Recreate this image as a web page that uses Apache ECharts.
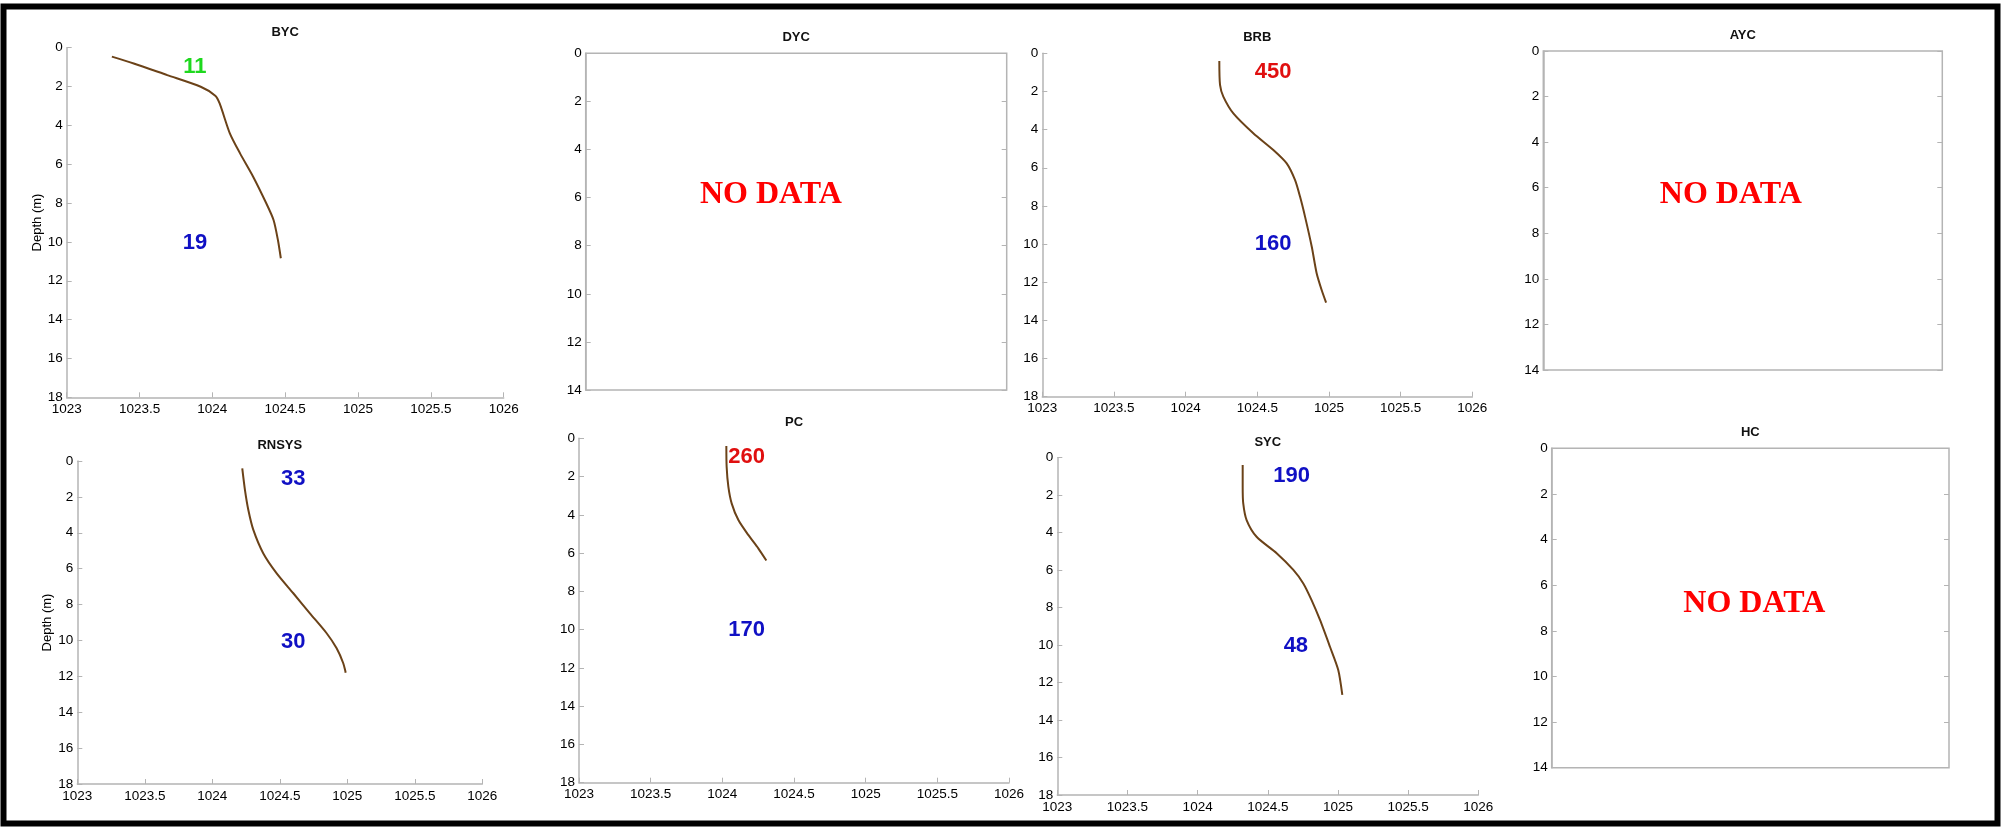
<!DOCTYPE html>
<html>
<head>
<meta charset="utf-8">
<script src="https://cdn.jsdelivr.net/npm/echarts@6/dist/echarts.min.js"></script>
<style>
  html, body { margin: 0; padding: 0; background: #fff; }
  #chart { width: 2007px; height: 827px; }
</style>
</head>
<body>
<div id="chart"></div>
<script>
// station names, in panel order (top row then bottom row)
const stations = ['BYC', 'DYC', 'BRB', 'AYC', 'RNSYS', 'PC', 'SYC', 'HC']

// density profiles (kg/m3) against depth (m)
const bycDensity = [1023.31, 1023.46, 1023.69, 1023.92, 1024.02, 1024.05, 1024.12, 1024.19, 1024.28, 1024.37, 1024.42, 1024.45, 1024.47]
const bycDepth = [0.46, 0.81, 1.41, 2.01, 2.47, 2.87, 4.41, 5.44, 6.64, 8.01, 8.87, 9.9, 10.84]

const brbDensity = [1024.235, 1024.24, 1024.263, 1024.333, 1024.472, 1024.612, 1024.705, 1024.763, 1024.798, 1024.833, 1024.88, 1024.914, 1024.949, 1024.98]
const brbDepth = [0.40, 1.66, 2.27, 3.15, 4.19, 5.07, 5.77, 6.64, 7.51, 8.56, 10.14, 11.53, 12.41, 13.07]

const rnsysDensity = [1024.222, 1024.242, 1024.267, 1024.304, 1024.378, 1024.477, 1024.6, 1024.723, 1024.847, 1024.921, 1024.97, 1024.988]
const rnsysDepth = [0.41, 1.62, 2.73, 3.84, 5.15, 6.26, 7.37, 8.49, 9.6, 10.44, 11.27, 11.8]

const pcDensity = [1024.028, 1024.03, 1024.042, 1024.065, 1024.112, 1024.181, 1024.251, 1024.307]
const pcDepth = [0.40, 1.48, 2.53, 3.40, 4.27, 5.05, 5.75, 6.39]

const sycDensity = [1024.321, 1024.321, 1024.325, 1024.349, 1024.42, 1024.563, 1024.682, 1024.753, 1024.812, 1024.872, 1024.943, 1025.002, 1025.031]
const sycDepth = [0.39, 1.55, 2.44, 3.33, 4.22, 5.1, 5.99, 6.71, 7.6, 8.66, 10.09, 11.33, 12.66]

// which panel each profile goes in; the rest say NO DATA
const profilePanel = [0, 2, 4, 5, 6]
const profileDensity = [bycDensity, brbDensity, rnsysDensity, pcDensity, sycDensity]
const profileDepth = [bycDepth, brbDepth, rnsysDepth, pcDepth, sycDepth]
const noDataPanel = [1, 3, 7]

// numbers written inside the panels
const notePanel = [0, 0, 2, 2, 4, 4, 5, 5, 6, 6]
const noteText = ['11', '19', '450', '160', '33', '30', '260', '170', '190', '48']
const noteDensity = [1023.88, 1023.88, 1024.61, 1024.61, 1024.6, 1024.6, 1024.17, 1024.17, 1024.67, 1024.70]
const noteDepth = [1.0, 10.06, 1.0, 10.0, 1.0, 10.06, 0.99, 10.02, 0.98, 10.03]
const noteKind = ['g', 'b', 'r', 'b', 'b', 'b', 'r', 'b', 'b', 'b']

// x position (0..1 across the box) and depth of the NO DATA text
const noDataX = [0.44, 0.47, 0.51]
const noDataDepth = [5.9, 6.3, 6.8]

// axis ticks
const densityMin = 1023, densityMax = 1026, densityStep = 0.5
const depthMaxProfile = 18, depthMaxEmpty = 14, depthStep = 2

const boxes = [
  [66.7, 47.7, 437, 349.6],
  [585.7, 53.3, 421, 336.7],
  [1042.3, 53.3, 430, 343.4],
  [1543.3, 51, 399, 319],
  [77.3, 461, 405, 323],
  [579, 438.3, 430, 344.4],
  [1057.3, 457.7, 421, 337.3],
  [1551.7, 448.3, 397.3, 319.4]
]

const kindColor = { g: '#1ed81e', b: '#1010c4', r: '#e00f0f' }
const axisGray = '#b4b4b4'
const sans = 'Arial, "Liberation Sans", sans-serif'

const chart = echarts.init(document.getElementById('chart'))

const grid = [], xAxis = [], yAxis = [], title = [], series = []

boxes.forEach((b, i) => {
  const empty = noDataPanel.indexOf(i) >= 0
  grid.push({
    left: b[0], top: b[1], width: b[2], height: b[3],
    show: empty, borderColor: axisGray, borderWidth: 1.5, backgroundColor: 'transparent'
  })
  title.push({
    text: stations[i],
    left: b[0] + b[2] / 2, top: b[1] - 22,
    textAlign: 'center', padding: 0,
    textStyle: { fontSize: 13, fontWeight: 'bold', color: '#111', fontFamily: sans }
  })
  if (empty) {
    xAxis.push({ type: 'value', gridIndex: i, min: 0, max: 1, show: false })
  } else {
    xAxis.push({
      type: 'value', gridIndex: i, position: 'bottom',
      min: densityMin, max: densityMax, interval: densityStep,
      axisLine: { onZero: false, lineStyle: { color: axisGray, width: 1.5 } },
      axisTick: { inside: true, length: 5, lineStyle: { color: axisGray } },
      axisLabel: { fontSize: 13.5, color: '#000', fontFamily: sans, margin: 5, formatter: v => String(v) },
      splitLine: { show: false }
    })
  }
  yAxis.push({
    type: 'value', gridIndex: i, inverse: true, position: 'left',
    min: 0, max: empty ? depthMaxEmpty : depthMaxProfile, interval: depthStep,
    name: (i === 0 || i === 4) ? 'Depth (m)' : '',
    nameLocation: 'middle', nameGap: 21,
    nameTextStyle: { fontSize: 13, color: '#000', fontFamily: sans },
    axisLine: { show: true, onZero: false, lineStyle: { color: axisGray, width: 1.5 } },
    axisTick: { inside: true, length: 5, lineStyle: { color: axisGray } },
    axisLabel: { fontSize: 13.5, color: '#000', fontFamily: sans, margin: 4 },
    splitLine: { show: false }
  })
})

// right-hand ticks on the empty boxes
noDataPanel.forEach(i => {
  yAxis.push({
    type: 'value', gridIndex: i, inverse: true, position: 'right',
    min: 0, max: depthMaxEmpty, interval: depthStep,
    axisLine: { show: false, onZero: false },
    axisTick: { inside: true, length: 5, lineStyle: { color: axisGray } },
    axisLabel: { show: false },
    splitLine: { show: false }
  })
})

profilePanel.forEach((p, k) => {
  series.push({
    type: 'line', xAxisIndex: p, yAxisIndex: p,
    data: profileDensity[k].map((d, j) => [d, profileDepth[k][j]]),
    showSymbol: false, symbol: 'none', smooth: 0.25,
    lineStyle: { color: '#6b4218', width: 2 },
    silent: true
  })
})

notePanel.forEach((p, k) => {
  series.push({
    type: 'scatter', xAxisIndex: p, yAxisIndex: p,
    symbolSize: 1, itemStyle: { color: 'transparent', opacity: 1 }, silent: true,
    data: [{ name: noteText[k], value: [noteDensity[k], noteDepth[k]] }],
    label: {
      show: true, position: 'inside', formatter: '{b}',
      fontSize: 22, fontWeight: 'bold', fontFamily: sans, color: kindColor[noteKind[k]]
    }
  })
})

noDataPanel.forEach((p, k) => {
  series.push({
    type: 'scatter', xAxisIndex: p, yAxisIndex: p,
    symbolSize: 1, itemStyle: { color: 'transparent', opacity: 1 }, silent: true,
    data: [{ name: 'NO DATA', value: [noDataX[k], noDataDepth[k]] }],
    label: {
      show: true, position: 'inside', formatter: '{b}',
      fontSize: 32, fontWeight: 'bold', fontFamily: '"Liberation Serif", "Times New Roman", serif', color: '#ff0000'
    }
  })
})

chart.setOption({
  animation: false,
  backgroundColor: '#fff',
  title, grid, xAxis, yAxis, series,
  graphic: [{
    type: 'rect', silent: true,
    shape: { x: 3.5, y: 6.5, width: 1994, height: 817 },
    style: { fill: 'none', stroke: '#000', lineWidth: 6 }
  }]
})
</script>
</body>
</html>
